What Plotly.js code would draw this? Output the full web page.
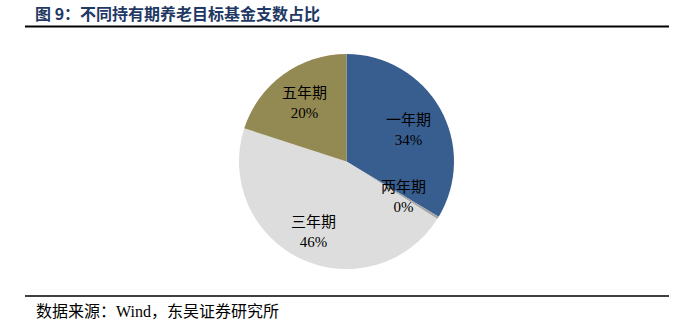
<!DOCTYPE html>
<html>
<head>
<meta charset="utf-8">
<script src="https://cdn.plot.ly/plotly-3.0.1.min.js"></script>
<style>html,body{margin:0;padding:0;background:#fff;}#chart{width:693px;height:327px;}</style>
</head>
<body>
<div id="chart"></div>
<script>
var categories = ["一年期", "两年期", "三年期", "五年期"];
var shares = [33.6, 0.4, 46.0, 20.0];
var sliceColors = ["#385D8F", "#A6A6A6", "#DDDDDD", "#938953"];
var titleText = "图 9：不同持有期养老目标基金支数占比";
var sourceText = "数据来源：Wind，东吴证券研究所";

// label anchor positions in pixels (layout only)
var labelPos = [[408, 130], [403, 197], [313, 232], [304, 103]];

var fontFam = "'Liberation Serif', 'Noto Sans CJK SC', serif";
var W = 693, H = 327;

var total = shares.reduce(function (a, b) { return a + b; }, 0);

var trace = {
  type: "pie",
  labels: categories,
  values: shares,
  sort: false,
  direction: "clockwise",
  rotation: 0,
  marker: {colors: sliceColors, line: {width: 0}},
  textinfo: "none",
  hoverinfo: "none",
  showlegend: false,
  domain: {x: [239/W, 454/W], y: [1 - 269/H, 1 - 54/H]}
};

var annotations = [
  {text: "<b>" + titleText + "</b>", xref: "paper", yref: "paper", x: 33/W, y: 1 - 13.5/H, xanchor: "left", yanchor: "middle", showarrow: false,
   font: {family: "'Noto Sans CJK SC', sans-serif", size: 16, color: "#1F3864"}},
  {text: sourceText, xref: "paper", yref: "paper", x: 34/W, y: 1 - 311/H, xanchor: "left", yanchor: "middle", showarrow: false,
   font: {family: fontFam, size: 16, color: "#000"}}
];
categories.forEach(function (c, i) {
  annotations.push({
    text: c + "<br>" + Math.round(shares[i] / total * 100) + "%",
    xref: "paper", yref: "paper",
    x: labelPos[i][0] / W, y: 1 - labelPos[i][1] / H,
    xanchor: "center", yanchor: "middle", showarrow: false,
    font: {family: fontFam, size: 15, color: "#000"}
  });
});

var layout = {
  width: W, height: H,
  margin: {l: 0, r: 0, t: 0, b: 0},
  paper_bgcolor: "#fff",
  showlegend: false,
  shapes: [
    {type: "line", xref: "paper", yref: "paper", x0: 25/W, x1: 669/W, y0: 1 - 26.5/H, y1: 1 - 26.5/H, line: {color: "#000", width: 2}},
    {type: "line", xref: "paper", yref: "paper", x0: 25/W, x1: 669/W, y0: 1 - 296/H, y1: 1 - 296/H, line: {color: "#000", width: 1.5}}
  ],
  annotations: annotations
};

Plotly.newPlot("chart", [trace], layout, {staticPlot: true, displayModeBar: false});
</script>
</body>
</html>
